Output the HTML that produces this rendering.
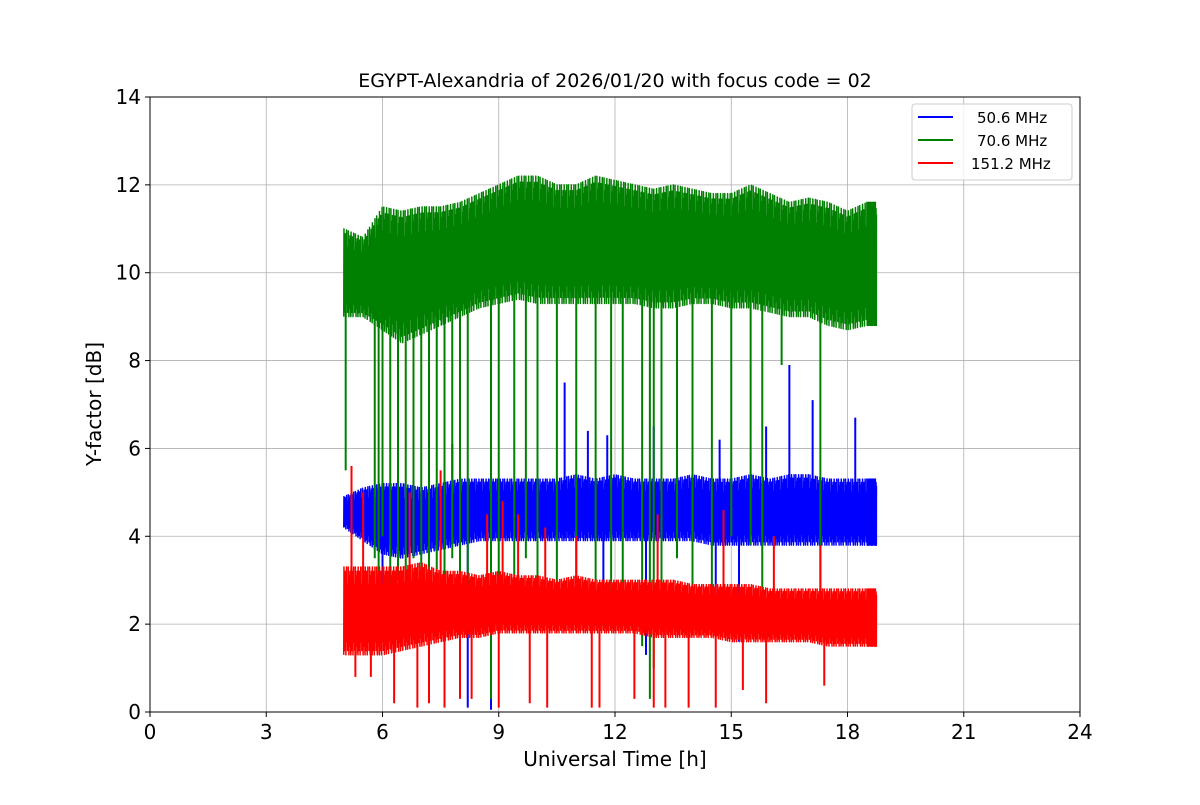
<!DOCTYPE html>
<html><head><meta charset="utf-8">
<style>
body{margin:0;background:#fff;}
svg text{font-family:"DejaVu Sans","Liberation Sans",sans-serif;fill:#000;}
</style></head>
<body>
<svg id="chart" width="1200" height="800" viewBox="0 0 1200 800">
<rect width="1200" height="800" fill="#fff"/>
<g id="grid"></g>
<g id="series"></g>
<rect x="150" y="97" width="930" height="615" fill="none" stroke="#000" stroke-width="1"/>
<g id="ticks"></g>
<text x="615" y="87" font-size="19" text-anchor="middle">EGYPT-Alexandria of 2026/01/20 with focus code = 02</text>
<text x="615" y="766" font-size="20" text-anchor="middle">Universal Time [h]</text>
<text x="0" y="0" font-size="20" text-anchor="middle" transform="translate(101,404) rotate(-90)">Y-factor [dB]</text>
<g>
<rect x="912" y="104" width="160" height="76" rx="3" fill="#fff" fill-opacity="0.8" stroke="#ccc"/>
<g><line x1="918" y1="117" x2="953" y2="117" stroke="#0000ff" stroke-width="2"/><text x="977" y="123" font-size="15">50.6 MHz</text></g>
<g><line x1="918" y1="140" x2="953" y2="140" stroke="#008000" stroke-width="2"/><text x="977" y="146" font-size="15">70.6 MHz</text></g>
<g><line x1="918" y1="163" x2="953" y2="163" stroke="#ff0000" stroke-width="2"/><text x="971" y="169" font-size="15">151.2 MHz</text></g>
</g>
</svg>
<script>
const xTicks=[0,3,6,9,12,15,18,21,24];
const yTicks=[0,2,4,6,8,10,12,14];
const hours=[5,5.5,6,6.5,7,7.5,8,8.5,9,9.5,10,10.5,11,11.5,12,12.5,13,13.5,14,14.5,15,15.5,16,16.5,17,17.5,18,18.5,18.75];
const greenHigh=[11.0,10.8,11.5,11.4,11.5,11.5,11.6,11.8,12.0,12.2,12.2,12.0,12.0,12.2,12.1,12.0,11.9,12.0,11.9,11.8,11.8,12.0,11.8,11.6,11.7,11.6,11.4,11.6,11.6];
const greenLow=[9.0,9.0,8.7,8.4,8.6,8.8,9.0,9.2,9.3,9.4,9.3,9.3,9.3,9.3,9.3,9.3,9.2,9.2,9.3,9.3,9.2,9.2,9.1,9.0,9.0,8.8,8.7,8.8,8.8];
const blueHigh=[4.9,5.1,5.2,5.2,5.1,5.2,5.3,5.3,5.3,5.3,5.3,5.3,5.4,5.3,5.4,5.3,5.3,5.3,5.4,5.3,5.3,5.4,5.3,5.4,5.4,5.3,5.3,5.3,5.3];
const blueLow=[4.2,3.9,3.6,3.5,3.6,3.7,3.8,3.9,3.9,3.9,3.9,3.9,3.9,3.9,3.9,3.9,3.9,3.9,3.9,3.8,3.8,3.8,3.8,3.8,3.8,3.8,3.8,3.8,3.8];
const redHigh=[3.3,3.3,3.3,3.3,3.4,3.2,3.2,3.1,3.2,3.1,3.1,3.0,3.1,3.0,3.0,3.0,3.0,3.0,2.9,2.9,2.9,2.9,2.8,2.8,2.8,2.8,2.8,2.8,2.8];
const redLow=[1.3,1.3,1.3,1.4,1.5,1.6,1.7,1.7,1.8,1.8,1.8,1.8,1.8,1.8,1.8,1.8,1.7,1.7,1.7,1.7,1.6,1.6,1.6,1.6,1.6,1.5,1.5,1.5,1.5];
const greenSpikeT=[5.05,5.8,5.9,6.0,6.2,6.4,6.6,6.8,7.0,7.2,7.4,7.6,7.8,8.0,8.2,8.8,9.0,9.4,9.7,10.0,10.5,11.0,11.5,11.9,12.2,12.7,12.9,13.0,13.2,13.6,14.0,14.5,15.0,15.5,15.8,16.3,17.3];
const greenSpikeV=[5.5,3.5,2.5,4.0,2.2,3.0,2.0,3.5,2.5,3.0,2.2,3.0,3.5,2.5,2.0,0.3,3.0,2.5,3.5,2.8,2.0,2.5,3.0,2.5,2.5,1.5,0.3,1.0,2.0,3.5,2.8,2.5,4.0,3.8,2.5,7.9,2.5];
const blueSpikeT=[6.0,6.4,7.8,8.2,8.8,10.7,11.3,11.7,11.8,12.8,13.0,14.6,14.7,15.2,15.9,16.5,17.1,18.2];
const blueSpikeV=[2.2,6.0,6.1,0.1,0.05,7.5,6.4,2.0,6.3,1.3,6.5,2.0,6.2,1.6,6.5,7.9,7.1,6.7];
const redSpikeT=[5.2,5.3,5.5,5.7,6.3,6.7,6.9,7.2,7.5,7.6,8.0,8.3,8.7,9.0,9.1,9.5,9.8,10.2,10.25,11.0,11.4,11.6,12.5,13.0,13.1,13.3,13.9,14.6,14.8,15.3,15.9,16.1,17.3,17.4];
const redSpikeV=[5.6,0.8,5.0,0.8,0.2,5.0,0.1,0.2,5.5,0.1,0.3,0.3,4.5,0.1,4.8,4.5,0.2,4.2,0.1,4.0,0.1,0.1,0.3,0.1,4.5,0.1,0.1,0.1,4.6,0.5,0.2,4.0,3.8,0.6];

const X0=150,X1=1080,Y0=712,Y1=97;
const xs=v=>X0+(v/24)*(X1-X0);
const ys=v=>Y0-(v/14)*(Y0-Y1);
const NS='http://www.w3.org/2000/svg';
function mk(tag,attrs,parent){const e=document.createElementNS(NS,tag);for(const k in attrs)e.setAttribute(k,attrs[k]);parent.appendChild(e);return e;}
const grid=document.getElementById('grid'),ticks=document.getElementById('ticks'),ser=document.getElementById('series');
xTicks.forEach(t=>{
 const g=mk('line',{x1:xs(t),x2:xs(t),y1:Y1,y2:Y0,stroke:'#b0b0b0','stroke-width':0.8},grid);
 
 
 mk('line',{x1:xs(t),x2:xs(t),y1:Y0,y2:Y0+5,stroke:'#000'},ticks);
 const tx=mk('text',{x:xs(t),y:Y0+27,'font-size':20,'text-anchor':'middle'},ticks);tx.textContent=t;
 
 
});
yTicks.forEach(t=>{
 const g=mk('line',{x1:X0,x2:X1,y1:ys(t),y2:ys(t),stroke:'#b0b0b0','stroke-width':0.8},grid);
 
 
 mk('line',{x1:X0-5,x2:X0,y1:ys(t),y2:ys(t),stroke:'#000'},ticks);
 const tx=mk('text',{x:X0-9,y:ys(t)+7,'font-size':20,'text-anchor':'end'},ticks);tx.textContent=t;
 
 
});
const pattern=[0,1,0.2,0.85,0.05,0.7,0.3,0.95,0.1,0.6,0.0,0.9,0.25,1,0.15,0.75,0.4,0.8,0.05,0.55,0.2,1,0.35,0.65,0.0,0.9,0.45,0.7,0.1,0.95,0.3,0.6,0.05];
function drawSeries(name,color,hi,lo,st,sv){
 const g=mk('g',{},ser);
 
 
 let pts=[];const steps=90;
 for(let i=0;i<hours.length-1;i++){
  for(let k=0;k<steps;k++){
   const f=k/steps,t=hours[i]+(hours[i+1]-hours[i])*f;
   const h=hi[i]+(hi[i+1]-hi[i])*f,l=lo[i]+(lo[i+1]-lo[i])*f;
   const p=pattern[(i*steps+k)%pattern.length];
   pts.push(xs(t).toFixed(2)+','+ys(l+(h-l)*p).toFixed(2));
  }
 }
 const pl=mk('polyline',{points:pts.join(' '),fill:'none',stroke:color,'stroke-width':1.5,'stroke-linejoin':'round'},g);
 
 
 st.forEach((t,j)=>{
  let i=0;while(i<hours.length-2&&hours[i+1]<t)i++;
  const mid=(hi[i]+lo[i])/2;
  const ln=mk('line',{x1:xs(t),x2:xs(t),y1:ys(mid),y2:ys(sv[j]),stroke:color,'stroke-width':2},g);
  
  
 });
}
drawSeries('series-50-6-mhz','#0000ff',blueHigh,blueLow,blueSpikeT,blueSpikeV);
drawSeries('series-70-6-mhz','#008000',greenHigh,greenLow,greenSpikeT,greenSpikeV);
drawSeries('series-151-2-mhz','#ff0000',redHigh,redLow,redSpikeT,redSpikeV);
</script>
</body></html>
